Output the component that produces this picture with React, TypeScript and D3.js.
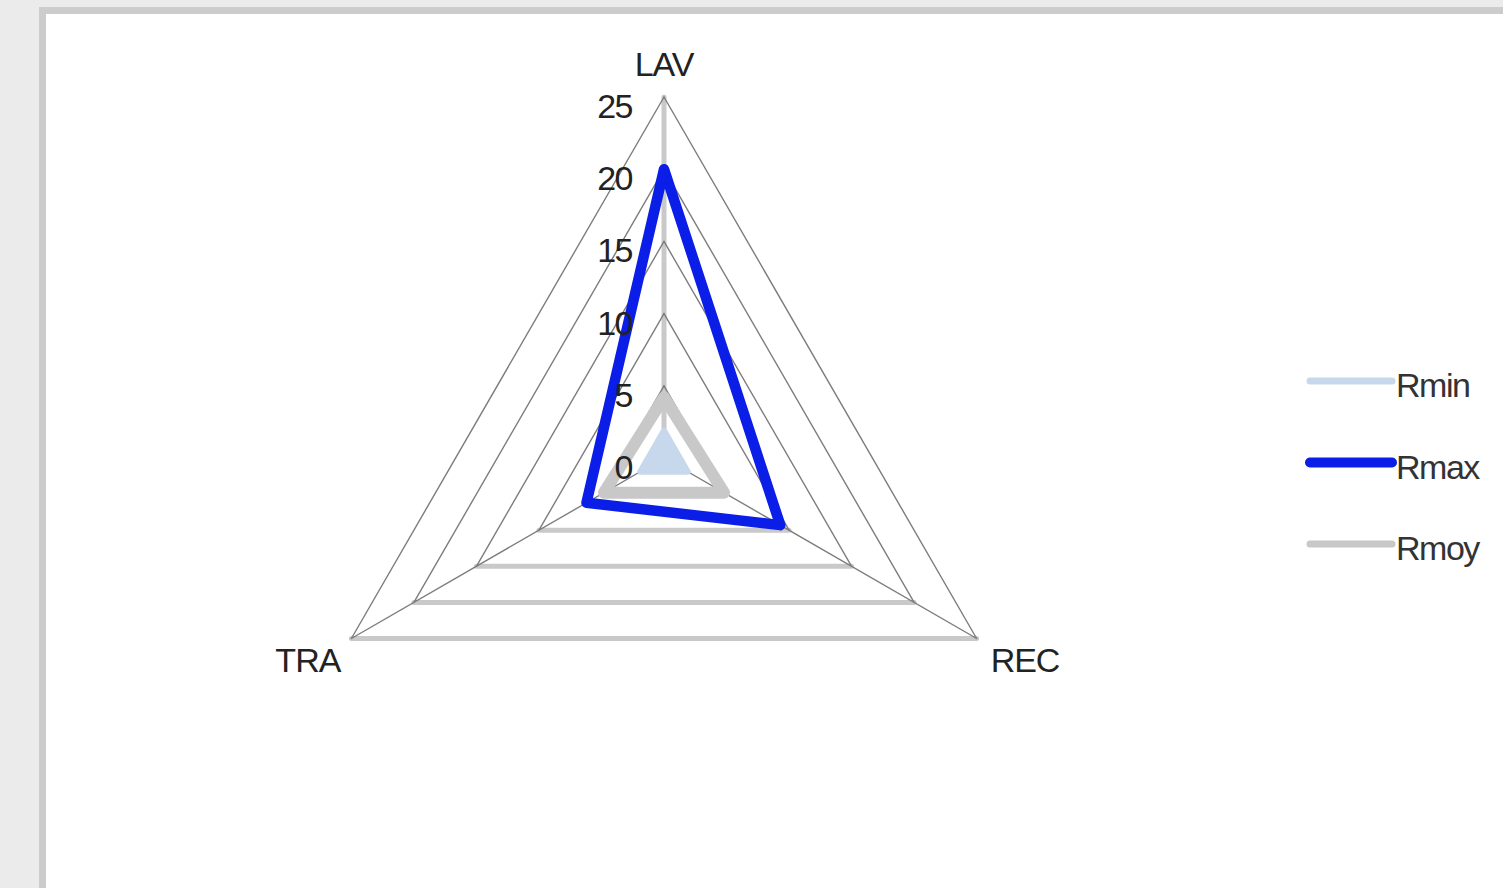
import React from "react";
import * as d3 from "d3";

const categories = ["LAV", "REC", "TRA"];
const ticks = [0, 5, 10, 15, 20, 25];
const seriesNames = ["Rmin", "Rmax", "Rmoy"];
const rmin = [1.9, 1.9, 1.9];
const rmax = [20, 9.3, 6.2];
const rmoy = [4.2, 4.8, 4.8];

const W = 1503;
const H = 888;
const cx = 664;
const cy = 458;
const R = 361;
const FONT = "'Liberation Sans', Arial, sans-serif";

const r = d3.scaleLinear().domain([0, 25]).range([0, R]);
const angle = d3
  .scaleOrdinal<string, number>()
  .domain(categories)
  .range(categories.map((_, i) => -Math.PI / 2 + (i * 2 * Math.PI) / categories.length));

function pt(cat: string, v: number): [number, number] {
  const a = angle(cat);
  return [cx + r(v) * Math.cos(a), cy + r(v) * Math.sin(a)];
}

const lineGen = d3.line<[number, number]>().curve(d3.curveLinearClosed);

type Seg = { x1: number; y1: number; x2: number; y2: number };
function segStyle(s: Seg) {
  const flat = Math.abs(s.y1 - s.y2) < 0.5 || Math.abs(s.x1 - s.x2) < 0.5;
  return flat
    ? { stroke: "#c9c9c9", strokeWidth: 5 }
    : { stroke: "#7d7d7d", strokeWidth: 1.4 };
}

const series = [
  { name: seriesNames[0], values: rmin, color: "#c7d8ec", width: 6, fill: "#c7d8ec" },
  { name: seriesNames[2], values: rmoy, color: "#c8c8c8", width: 12, fill: "none" },
  { name: seriesNames[1], values: rmax, color: "#0a1ee8", width: 10.5, fill: "none" },
];
const legendItems = [
  { name: seriesNames[0], color: "#c7d8ec", width: 7 },
  { name: seriesNames[1], color: "#0a1ee8", width: 10 },
  { name: seriesNames[2], color: "#c8c8c8", width: 7 },
];

export default function App() {
  const segs: Seg[] = [];
  ticks.filter((t) => t > 0).forEach((t) => {
    categories.forEach((c, i) => {
      const n = categories[(i + 1) % categories.length];
      const [x1, y1] = pt(c, t);
      const [x2, y2] = pt(n, t);
      segs.push({ x1, y1, x2, y2 });
    });
  });
  categories.forEach((c) => {
    const [x2, y2] = pt(c, 25);
    segs.push({ x1: cx, y1: cy, x2, y2 });
  });
  const sorted = [...segs].sort((a, b) => segStyle(b).strokeWidth - segStyle(a).strokeWidth);

  const labelPos: Record<string, { x: number; y: number; anchor: string }> = {};
  categories.forEach((c) => {
    const [x, y] = pt(c, 25);
    if (y < cy) labelPos[c] = { x, y: y - 21, anchor: "middle" };
    else if (x < cx) labelPos[c] = { x: x - 11, y: y + 33, anchor: "end" };
    else labelPos[c] = { x: x + 14, y: y + 33, anchor: "start" };
  });

  return (
    <svg width={W} height={H} style={{ position: "absolute", left: 0, top: 0 }} fontFamily={FONT}>
      <rect x={0} y={0} width={W} height={H} fill="#ebebeb" />
      <rect x={39} y={7} width={W} height={H} fill="#cccccc" />
      <rect x={46} y={14} width={W} height={H} fill="#ffffff" />

      {sorted.map((s, i) => (
        <line key={i} {...s} {...segStyle(s)} strokeLinecap="round" />
      ))}

      {series.map((s) => (
        <path
          key={s.name}
          d={lineGen(categories.map((c, i) => pt(c, s.values[i]))) || ""}
          fill={s.fill}
          stroke={s.color}
          strokeWidth={s.width}
          strokeLinejoin="round"
        />
      ))}

      {ticks.map((t) => (
        <text
          key={t}
          x={cx - 32}
          y={cy - r(t) + 21}
          textAnchor="end"
          fontSize={34}
          letterSpacing={-1.5}
          fill="#222"
        >
          {t}
        </text>
      ))}

      {categories.map((c) => (
        <text
          key={c}
          x={labelPos[c].x}
          y={labelPos[c].y}
          textAnchor={labelPos[c].anchor as any}
          fontSize={34}
          letterSpacing={-1}
          fill="#222"
        >
          {c}
        </text>
      ))}

      {legendItems.map((l, i) => {
        const y = 381 + i * 81.5;
        return (
          <g key={l.name}>
            <line x1={1310} x2={1392} y1={y} y2={y} stroke={l.color} strokeWidth={l.width} strokeLinecap="round" />
            <text x={1396} y={y + 16} fontSize={34} letterSpacing={-1.5} fill="#333">
              {l.name}
            </text>
          </g>
        );
      })}
    </svg>
  );
}
